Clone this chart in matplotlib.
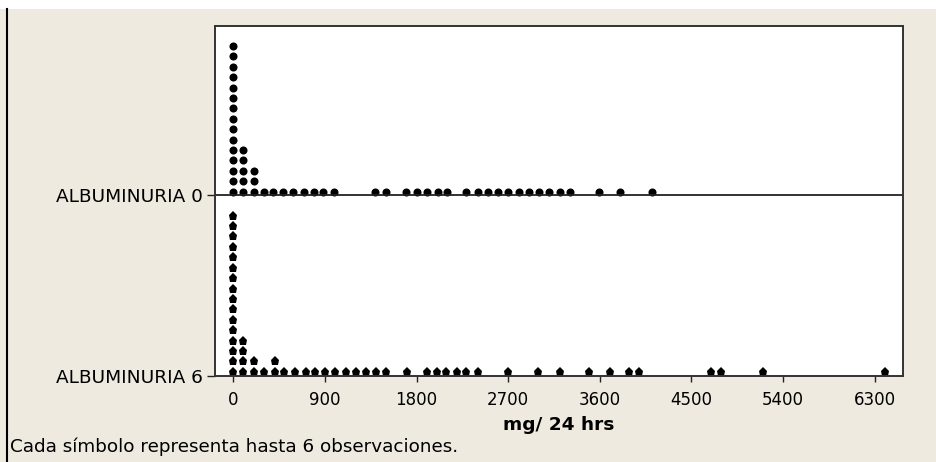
import numpy as np
import matplotlib
matplotlib.use('Agg')
import matplotlib.pyplot as plt
from matplotlib.patches import Rectangle
from matplotlib.lines import Line2D

## Dotplot data: bin centre (mg/24 hrs) and number of symbols stacked in that bin
alb0_values = [0, 100, 200, 300, 390, 490, 590, 690, 790, 880, 990,
               1390, 1500, 1700, 1800, 1900, 2010, 2100, 2290, 2400, 2500,
               2600, 2700, 2810, 2910, 3000, 3100, 3210, 3310, 3590, 3800, 4110]
alb0_counts = [15, 5, 3, 1, 1, 1, 1, 1, 1, 1, 1,
               1, 1, 1, 1, 1, 1, 1, 1, 1, 1,
               1, 1, 1, 1, 1, 1, 1, 1, 1, 1, 1]

alb6_values = [0, 100, 205, 305, 410, 500, 605, 710, 800, 900, 1000,
               1105, 1205, 1300, 1400, 1505, 1705, 1905, 2005, 2090, 2195,
               2290, 2405, 2695, 2995, 3210, 3495, 3705, 3890, 3985, 4695,
               4795, 5200, 6405]
alb6_counts = [16, 4, 2, 1, 2, 1, 1, 1, 1, 1, 1,
               1, 1, 1, 1, 1, 1, 1, 1, 1, 1,
               1, 1, 1, 1, 1, 1, 1, 1, 1, 1,
               1, 1, 1]

group_names = ['ALBUMINURIA 6', 'ALBUMINURIA 0']
x_ticks = [0, 900, 1800, 2700, 3600, 4500, 5400, 6300]
x_label = 'mg/ 24 hrs'
footnote = 'Cada símbolo representa hasta 6 observaciones.'

W, H = 936, 462
bg = '#EEEAE0'

fig = plt.figure(figsize=(W / 100, H / 100), dpi=100, facecolor=bg)

## white strip on top and the frame line on the left
fig.patches.append(Rectangle((0, 1 - 9 / H), 1, 9 / H, transform=fig.transFigure,
                             facecolor='white', edgecolor='none', zorder=0))
fig.lines.append(Line2D([7.5 / W, 7.5 / W], [0, 1 - 9 / H], transform=fig.transFigure,
                        color='black', lw=1.5))

ax = fig.add_axes([215 / W, (H - 376) / H, (903 - 215) / W, 350 / H])
ax.set_facecolor('white')

## y runs in pixel-like units: 0 = bottom axis, 181 = divider between panels
mid = 181
step = 10.4
base6 = 4.3
base0 = mid + 3.5


def stack(values, counts, base, marker, size):
    for v, c in zip(values, counts):
        ys = base + step * np.arange(c)
        ax.plot([v] * c, ys, linestyle='none', marker=marker, ms=size,
                color='black', markeredgewidth=0, clip_on=False)


stack(alb0_values, alb0_counts, base0, 'o', 5.8)
stack(alb6_values, alb6_counts, base6, 'p', 6.6)

ax.axhline(mid, color='#222222', lw=1.3)

ax.set_xlim(-180, 6580)
ax.set_ylim(0, 350)

ax.set_xticks(x_ticks)
ax.set_xticklabels([str(t) for t in x_ticks])
ax.set_yticks([0, mid])
ax.set_yticklabels(group_names)

ax.tick_params(axis='x', length=4, width=1, color='#222222', pad=7, labelsize=12)
ax.tick_params(axis='y', length=6, width=1, color='#222222', pad=3, labelsize=13.3)

for s in ax.spines.values():
    s.set_color('#333333')
    s.set_linewidth(1.4)

ax.set_xlabel(x_label, fontsize=13.3, fontweight='bold', labelpad=5)

fig.text(10 / W, 1 - 452 / H, footnote, ha='left', va='baseline', fontsize=13.2)

plt.savefig('out.png', dpi=100, facecolor=bg)
